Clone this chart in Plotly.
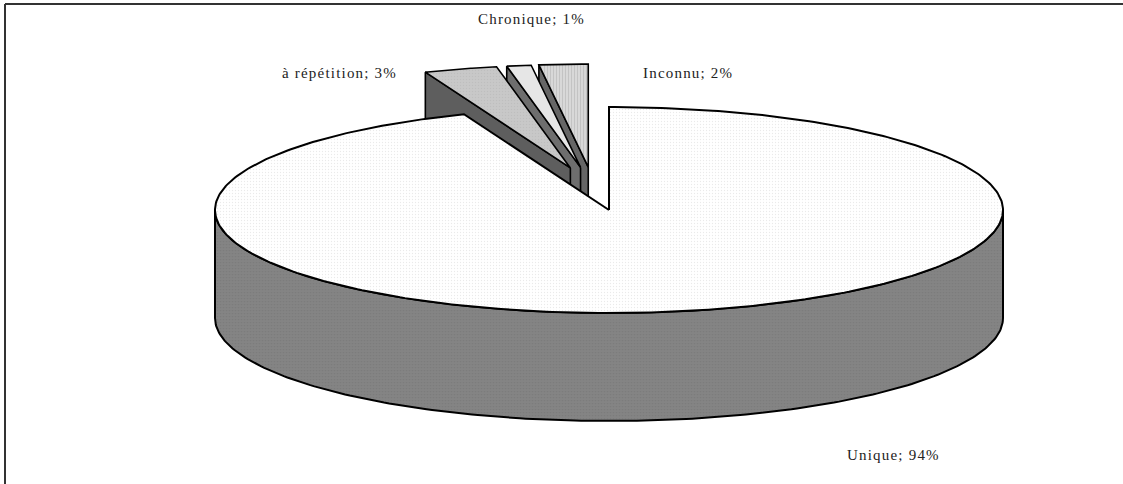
import numpy as np
import plotly.graph_objects as go

# Data
labels = ["Unique", "à répétition", "Chronique", "Inconnu"]
values = [94, 3, 1, 2]

# Styles
top_colors = ["#ffffff", "#c4c4c4", "#e6e6e6", "#cfcfcf"]
side_colors = ["#808080", "#5e5e5e", "#6e6e6e", "#666666"]
top_patterns = [
    dict(shape=".", fgcolor="#d6d6d6", bgcolor="#ffffff", size=3, solidity=0.15),
    dict(shape=".", fgcolor="#b4b4b4", bgcolor="#c8c8c8", size=3, solidity=0.2),
    None,
    dict(shape="|", fgcolor="#a8a8a8", bgcolor="#d8d8d8", size=3, solidity=0.3),
]
side_pattern = dict(shape=".", fgcolor="#747474", bgcolor="#848484", size=3, solidity=0.25)
pull = [0.0, 0.42, 0.42, 0.42]
label_pos = [(893, 455, "center"), (399, 73, "right"), (531, 19, "center"), (641, 73, "left")]

# Pie geometry (pixel space, 12 o'clock = 0 deg, clockwise)
W, H = 1123, 484
CX, CY = 609, 210
RX, RY = 394, 103
DEPTH = 108

total = float(sum(values))
starts, ends = [], []
acc = 0.0
for v in values:
    starts.append(360.0 * acc / total)
    acc += v
    ends.append(360.0 * acc / total)

# explode direction leans toward the centre of the pulled group
pulled = [i for i, p in enumerate(pull) if p > 0]
group_mid = (starts[pulled[0]] + ends[pulled[-1]]) / 2.0


def offset(i):
    if pull[i] == 0:
        return 0.0, 0.0
    mid = (starts[i] + ends[i]) / 2.0
    phi = np.radians(group_mid + 0.5 * (mid - group_mid))
    return pull[i] * RX * np.sin(phi), -pull[i] * RY * np.cos(phi)


def arc(a0, a1, ox, oy, dz=0.0, n=200):
    t = np.radians(np.linspace(a0, a1, n))
    return CX + ox + RX * np.sin(t), CY + oy - RY * np.cos(t) + dz


fig = go.Figure()


def poly(x, y, color, pattern=None, width=1.6):
    kw = dict(fillcolor=color)
    if pattern is not None:
        kw["fillpattern"] = pattern
    fig.add_trace(go.Scatter(
        x=np.append(x, x[0]), y=np.append(y, y[0]), mode="lines", fill="toself",
        line=dict(color="black", width=width), hoverinfo="skip", showlegend=False, **kw))


# pulled slices, back-most first
for i in sorted(pulled, key=lambda k: -starts[k]):
    ox, oy = offset(i)
    s, e = starts[i], ends[i]
    ax, ay = CX + ox, CY + oy
    # start radial face
    if np.sin(np.radians(s)) < 0:
        px, py = arc(s, s, ox, oy, n=1)
        poly(np.array([ax, px[0], px[0], ax]),
             np.array([ay, py[0], py[0] + DEPTH, ay + DEPTH]), side_colors[i])
    # top face
    tx, ty = arc(s, e, ox, oy, n=60)
    poly(np.concatenate([[ax], tx]), np.concatenate([[ay], ty]),
         top_colors[i], top_patterns[i])

# main slice: front side wall, then top face
for i in [k for k in range(len(values)) if pull[k] == 0]:
    ox, oy = offset(i)
    s, e = starts[i], ends[i]
    a0, a1 = max(s, 90.0), min(e, 270.0)
    if a1 > a0:
        ux, uy = arc(a0, a1, ox, oy)
        bx, by = arc(a1, a0, ox, oy, dz=DEPTH)
        poly(np.concatenate([ux, bx]), np.concatenate([uy, by]),
             side_colors[i], side_pattern, width=2)
    tx, ty = arc(s, e, ox, oy, n=400)
    poly(np.concatenate([[CX + ox], tx]), np.concatenate([[CY + oy], ty]),
         top_colors[i], top_patterns[i], width=2)

# data labels
for i, (lx, ly, al) in enumerate(label_pos):
    txt = f"{labels[i]}; {values[i]}%"
    fig.add_annotation(x=lx, y=ly, xref="x", yref="y",
                       text=f'<span style="letter-spacing:1.2px">{txt}</span>',
                       showarrow=False, xanchor=al, yanchor="middle",
                       font=dict(family="Liberation Serif, Times New Roman, serif",
                                 size=15, color="#222222"))

# chart area frame
fig.add_shape(type="line", x0=5, y0=4, x1=W, y1=4, xref="x", yref="y",
              line=dict(color="#333333", width=2))
fig.add_shape(type="line", x0=5, y0=4, x1=5, y1=H, xref="x", yref="y",
              line=dict(color="#333333", width=2))

fig.update_layout(
    width=W, height=H, margin=dict(l=0, r=0, t=0, b=0),
    paper_bgcolor="white", plot_bgcolor="white", showlegend=False,
    xaxis=dict(range=[0, W], visible=False, fixedrange=True),
    yaxis=dict(range=[H, 0], visible=False, fixedrange=True),
)

fig.write_html("out.html")
